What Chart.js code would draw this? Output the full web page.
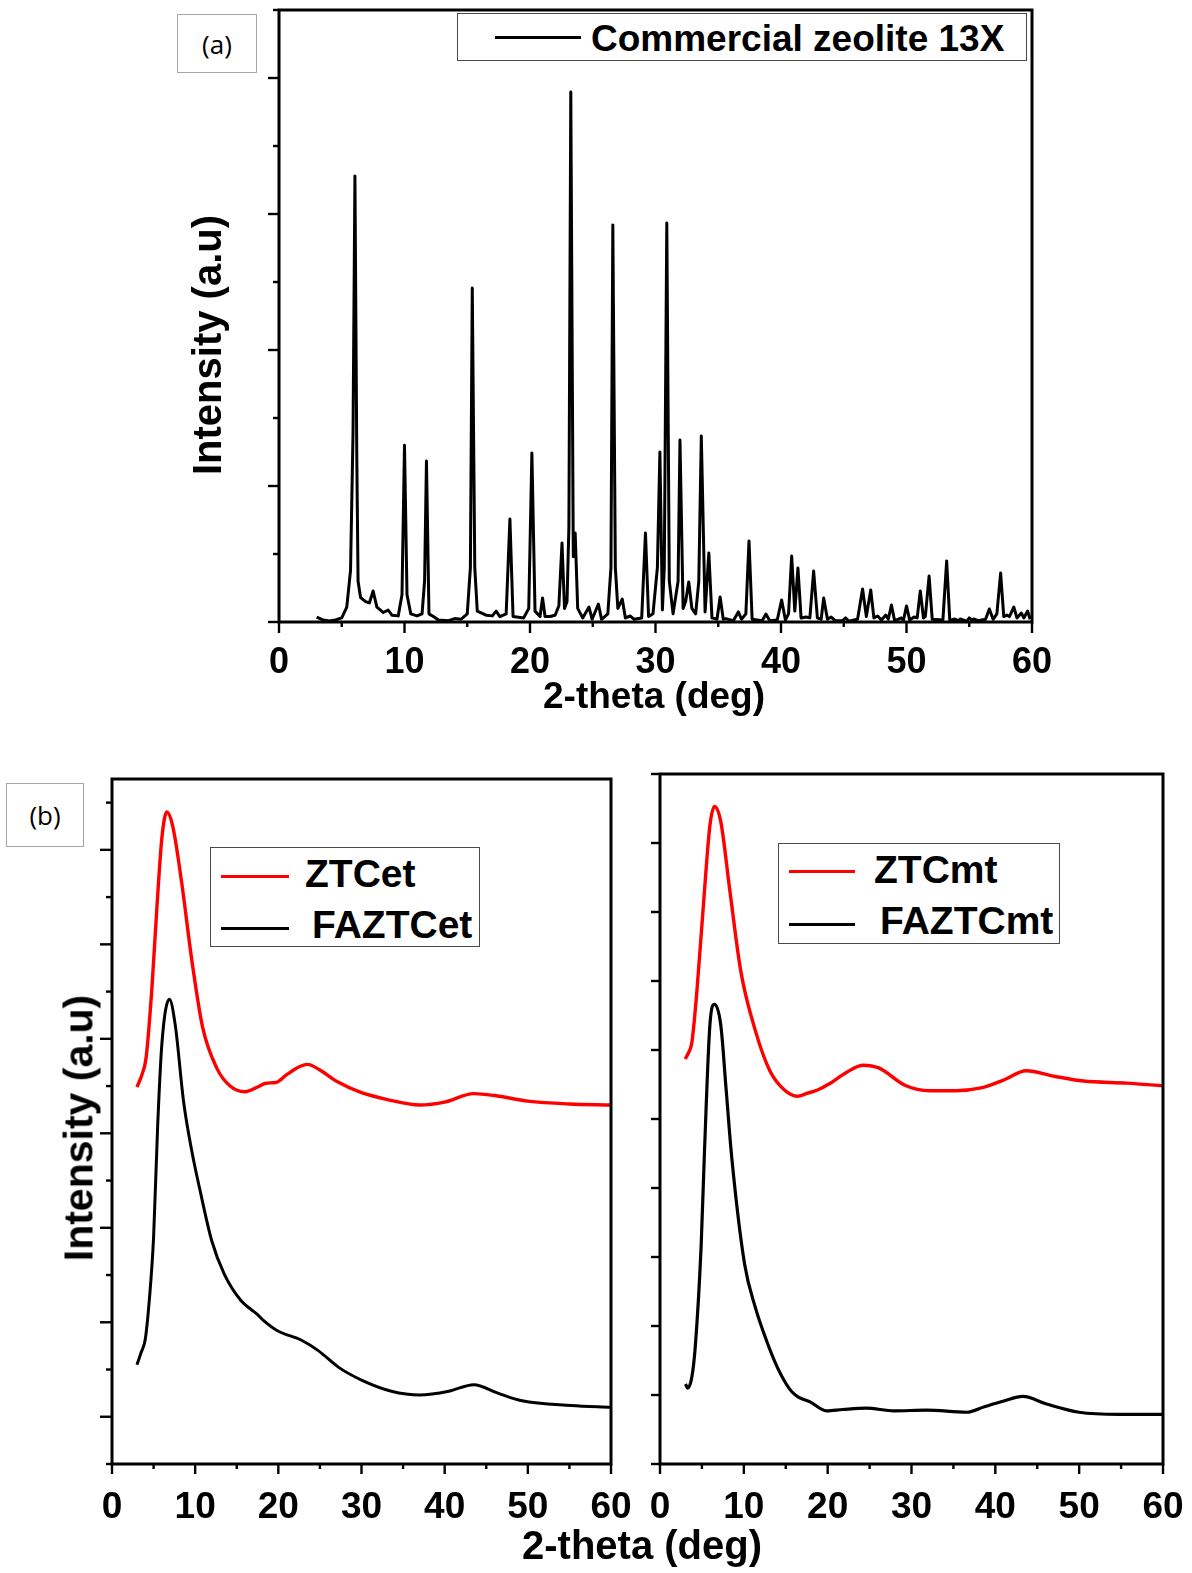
<!DOCTYPE html>
<html>
<head>
<meta charset="utf-8">
<title>XRD patterns</title>
<script src="https://cdn.jsdelivr.net/npm/chart.js@4/dist/chart.umd.min.js"></script>
<style>
  html, body { margin: 0; padding: 0; background: #fff; }
  #page { position: relative; width: 1192px; height: 1573px; overflow: hidden; background: #fff;
          font-family: "Liberation Sans", Arial, sans-serif; color: #000; }
  canvas { position: absolute; left: 0; top: 0; }
  .t { position: absolute; white-space: nowrap; font-weight: bold; line-height: 1;
       transform: translate(-50%, -50%); }
  .rot { transform: translate(-50%, -50%) rotate(-90deg); }
  .panel { position: absolute; box-sizing: border-box; border: 1.5px solid #a6a6a6; background: #fff;
           display: flex; align-items: center; justify-content: center;
           font-family: "Open Sans", "Noto Sans", sans-serif; font-size: 26px; }
  .leg { position: absolute; box-sizing: border-box; border: 1.5px solid #4a4a4a; background: #fff; }
  .ln { position: absolute; height: 3px; }
  .lt { position: absolute; white-space: nowrap; font-weight: bold; line-height: 1; transform: translateY(-50%); }
</style>
</head>
<body>
<div id="page">
  <canvas id="chartA" width="1192" height="1573"></canvas>
  <canvas id="chartB1" width="1192" height="1573"></canvas>
  <canvas id="chartB2" width="1192" height="1573"></canvas>

  <!-- panel (a) -->
  <div class="panel" style="left:177px;top:14px;width:80px;height:59px;">(a)</div>
  <div class="leg" style="left:457px;top:13px;width:570px;height:48px;"></div>
  <div class="ln" style="left:495px;top:36px;width:86px;background:#000;"></div>
  <div class="lt" style="left:591px;top:38px;font-size:37px;">Commercial zeolite 13X</div>
  <div class="t rot" style="left:207px;top:345px;font-size:40px;">Intensity (a.u)</div>
  <div class="t" style="left:654px;top:695px;font-size:37px;">2-theta (deg)</div>

  <!-- panel (b) -->
  <div class="panel" style="left:6px;top:783px;width:78px;height:64px;">(b)</div>
  <div class="leg" style="left:210px;top:847px;width:270px;height:100px;"></div>
  <div class="ln" style="left:221px;top:875px;width:68px;background:#ff0000;"></div>
  <div class="ln" style="left:221px;top:927px;width:68px;background:#000;"></div>
  <div class="lt" style="left:305px;top:873px;font-size:39px;">ZTCet</div>
  <div class="lt" style="left:312px;top:924px;font-size:39px;">FAZTCet</div>

  <div class="leg" style="left:778px;top:843px;width:282px;height:101px;"></div>
  <div class="ln" style="left:789px;top:870px;width:66px;background:#ff0000;"></div>
  <div class="ln" style="left:789px;top:923px;width:66px;background:#000;"></div>
  <div class="lt" style="left:874px;top:869px;font-size:39px;">ZTCmt</div>
  <div class="lt" style="left:880px;top:920px;font-size:39px;">FAZTCmt</div>

  <div class="t rot" style="left:79px;top:1128px;font-size:41px;">Intensity (a.u)</div>
  <div class="t" style="left:642px;top:1545px;font-size:40px;">2-theta (deg)</div>
</div>

<script>
// ---- (a) commercial zeolite 13X powder pattern ----
const thetaA = [
  3.0, 3.5, 4.0, 4.5, 5.0, 5.4, 5.7, 5.9, 6.05, 6.2,
  6.3, 6.5, 6.9, 7.2, 7.5, 7.8, 8.3, 8.7, 9.0, 9.5,
  9.8, 10.0, 10.2, 10.5, 11.0, 11.4, 11.6, 11.75, 11.95, 12.4,
  12.7, 13.5, 14.0, 14.5, 15.0, 15.25, 15.4, 15.6, 15.8, 16.5,
  17.0, 17.3, 17.6, 18.1, 18.4, 18.65, 19.5, 19.9, 20.15, 20.4,
  20.8, 21.0, 21.2, 21.6, 22.0, 22.3, 22.55, 22.75, 22.95, 23.1,
  23.25, 23.45, 23.6, 23.8, 24.2, 24.7, 24.95, 25.45, 25.7, 26.2,
  26.45, 26.6, 26.8, 27.0, 27.35, 27.6, 28.0, 28.3, 28.9, 29.2,
  29.45, 29.8, 30.15, 30.35, 30.55, 30.7, 30.9, 31.1, 31.4, 31.8,
  31.95, 32.2, 32.4, 32.65, 32.9, 33.2, 33.45, 33.65, 33.95, 34.25,
  34.5, 34.9, 35.15, 35.4, 35.6, 36.2, 36.6, 36.85, 37.2, 37.45,
  37.7, 38.5, 38.8, 39.1, 39.7, 40.05, 40.35, 40.6, 40.85, 41.1,
  41.35, 41.6, 42.0, 42.3, 42.6, 42.9, 43.2, 43.4, 43.7, 44.0,
  44.3, 44.9, 45.15, 45.4, 46.1, 46.5, 46.8, 47.15, 47.4, 47.7,
  48.0, 48.35, 48.55, 48.8, 49.05, 49.6, 49.75, 50.0, 50.25, 50.6,
  50.85, 51.1, 51.35, 51.5, 51.8, 52.05, 52.9, 53.2, 53.45, 53.85,
  54.1, 54.3, 54.8, 55.0, 55.2, 55.4, 55.7, 56.3, 56.6, 56.9,
  57.2, 57.5, 57.75, 58.0, 58.2, 58.55, 58.8, 59.15, 59.35, 59.65,
  59.85
];
const intensityA = [
  35, 15, 8, 15, 30, 110, 380, 1400, 3280, 1200,
  300, 180, 150, 140, 228, 110, 70, 88, 50, 45,
  200, 1300, 200, 60, 45, 60, 300, 1184, 60, 35,
  15, 10, 25, 20, 60, 400, 2456, 400, 80, 50,
  45, 80, 40, 60, 757, 40, 30, 100, 1243, 80,
  40, 176, 40, 40, 50, 120, 581, 100, 150, 700,
  3897, 480, 654, 100, 30, 110, 20, 132, 20, 60,
  400, 2920, 400, 100, 169, 30, 44, 20, 30, 654,
  40, 60, 400, 1250, 88, 400, 2934, 300, 60, 300,
  1338, 100, 150, 294, 100, 60, 300, 1368, 74, 507,
  30, 20, 184, 20, 25, 10, 74, 20, 60, 596,
  20, 10, 59, 10, 15, 162, 15, 60, 485, 80,
  397, 30, 37, 30, 375, 30, 20, 176, 20, 37,
  10, 10, 30, 5, 20, 243, 40, 235, 30, 44,
  15, 51, 20, 125, 10, 30, 10, 118, 15, 37,
  30, 228, 30, 40, 338, 20, 15, 449, 10, 22,
  10, 22, 5, 30, 15, 22, 10, 20, 96, 20,
  60, 360, 40, 51, 40, 110, 30, 66, 30, 81,
  20
];

// ---- (b) template carbons, ethanol route ----
const thetaZTCet = [3.0, 3.6, 4.1, 4.8, 5.4, 6.0, 6.6, 7.3, 8.4, 9.6, 10.9, 12.6, 14.2, 16.0, 17.5, 18.5,
  19.8, 21.0, 22.4, 23.5, 25.0, 27.0, 30.0, 33.0, 37.0, 40.0, 43.5, 46.0, 50.0, 55.0, 60.0];
const ZTCet = [3.49, 3.62, 3.80, 4.54, 5.39, 6.13, 6.40, 6.25, 5.64, 4.83, 4.12, 3.69, 3.50, 3.44, 3.49, 3.53,
  3.54, 3.62, 3.70, 3.73, 3.67, 3.55, 3.43, 3.36, 3.30, 3.33, 3.42, 3.40, 3.34, 3.31, 3.30];
const thetaFAZTCet = [3.0, 3.5, 4.0, 4.5, 5.0, 5.5, 6.0, 6.9, 7.6, 8.6, 9.6, 10.6, 12.0, 13.5, 15.5, 16.8,
  17.4, 18.2, 19.9, 22.8, 24.8, 27.3, 30.2, 33.6, 37.0, 40.5, 43.5, 46.4, 49.3, 55.2, 60.0];
const FAZTCet = [0.55, 0.68, 0.82, 1.25, 1.90, 3.10, 3.95, 4.42, 4.15, 3.34, 2.81, 2.39, 1.86, 1.51, 1.23, 1.13,
  1.09, 1.02, 0.91, 0.81, 0.70, 0.52, 0.38, 0.27, 0.23, 0.27, 0.34, 0.25, 0.17, 0.12, 0.10];

// ---- (b) template carbons, methanol route ----
const thetaZTCmt = [3.0, 3.4, 3.8, 4.4, 5.3, 5.95, 6.5, 7.25, 8.34, 9.64, 11.4, 13.1, 14.85, 16.4, 17.5,
  18.8, 20.2, 21.8, 24.2, 26.1, 29.2, 32.2, 35.3, 38.3, 40.9, 43.7, 47.0, 50.5, 55.7, 60.0];
const ZTCmt = [5.87, 5.96, 6.11, 6.85, 8.30, 9.25, 9.53, 9.31, 8.30, 7.14, 6.27, 5.70, 5.42, 5.33, 5.37,
  5.42, 5.51, 5.64, 5.78, 5.74, 5.49, 5.41, 5.41, 5.45, 5.56, 5.70, 5.62, 5.55, 5.52, 5.48];
const thetaFAZTCmt = [3.04, 3.3, 3.8, 4.2, 4.9, 5.3, 5.95, 6.5, 7.25, 7.9, 8.56, 10.1, 11.37, 12.7, 14.0,
  15.0, 15.7, 16.5, 17.9, 19.85, 21.8, 24.6, 27.9, 31.8, 36.6, 38.7, 40.9, 43.3, 46.1, 50.0, 54.8, 60.0];
const FAZTCmt = [1.16, 1.10, 1.26, 1.69, 3.14, 4.51, 6.36, 6.66, 6.36, 5.41, 4.44, 2.89, 2.27, 1.79, 1.40,
  1.17, 1.05, 0.97, 0.90, 0.77, 0.79, 0.81, 0.77, 0.78, 0.75, 0.83, 0.91, 0.98, 0.87, 0.75, 0.72, 0.72];

// x tick values shared by every panel
const thetaMin = 0, thetaMax = 60, thetaMinorStep = 5, thetaMajorStep = 10;

const W = 1192, H = 1573;
Chart.defaults.font.family = '"Liberation Sans", Arial, sans-serif';
Chart.defaults.color = '#000';

const pts = (xs, ys) => xs.map((x, i) => ({ x, y: ys[i] }));

// Closed frame plus outward major/minor tick marks, taken from the scales
const frameTicks = {
  id: 'frameTicks',
  afterDatasetsDraw(chart, args, o) {
    const { ctx, chartArea: a } = chart;
    const xs = chart.scales.x, ys = chart.scales.y;
    const isMajor = (v, m) => Math.abs(v / m - Math.round(v / m)) < 1e-6;
    ctx.save();
    ctx.strokeStyle = '#000';
    ctx.lineCap = 'butt';
    ctx.lineWidth = o.tickWidth;
    xs.ticks.forEach(t => {
      const p = xs.getPixelForValue(t.value);
      const len = isMajor(t.value, o.xMajor) ? o.xLong : o.xShort;
      ctx.beginPath(); ctx.moveTo(p, a.bottom); ctx.lineTo(p, a.bottom + len); ctx.stroke();
    });
    ys.ticks.forEach(t => {
      const p = ys.getPixelForValue(t.value);
      const len = isMajor(t.value, o.yMajor) ? o.yLong : o.yShort;
      ctx.beginPath(); ctx.moveTo(a.left, p); ctx.lineTo(a.left - len, p); ctx.stroke();
    });
    ctx.lineWidth = o.frameWidth;
    ctx.strokeRect(a.left, a.top, a.right - a.left, a.bottom - a.top);
    ctx.restore();
  }
};

function makeChart(id, area, datasets, yAxis, marks, labelSize, labelPad) {
  return new Chart(document.getElementById(id), {
    type: 'line',
    data: { datasets },
    options: {
      responsive: false,
      animation: false,
      layout: { padding: { left: area.l, top: area.t, right: W - area.r, bottom: 0 } },
      plugins: { legend: { display: false }, tooltip: { enabled: false }, frameTicks: marks },
      elements: { point: { radius: 0 } },
      scales: {
        x: {
          type: 'linear', min: thetaMin, max: thetaMax,
          grid: { display: false }, border: { display: false },
          ticks: {
            stepSize: thetaMinorStep, autoSkip: false, maxRotation: 0, minRotation: 0,
            padding: labelPad, color: '#000', font: { size: labelSize, weight: 'bold' },
            callback: v => (v % thetaMajorStep === 0 ? String(v) : '')
          },
          afterFit: s => { s.height = H - area.b; s.paddingLeft = 0; s.paddingRight = 0; }
        },
        y: {
          type: 'linear', min: yAxis.min, max: yAxis.max,
          grid: { display: false }, border: { display: false },
          ticks: { display: false, stepSize: yAxis.step, includeBounds: false },
          afterFit: s => { s.width = 0; }
        }
      }
    },
    plugins: [frameTicks]
  });
}

// (a)
makeChart('chartA', { l: 279, t: 10, r: 1032, b: 622 },
  [{ data: pts(thetaA, intensityA), borderColor: '#000', borderWidth: 3, tension: 0,
     borderJoinStyle: 'round', pointRadius: 0 }],
  { min: 0, max: 4500, step: 500 },
  { xMajor: 10, xLong: 11, xShort: 5, yMajor: 1000, yLong: 11, yShort: 6, tickWidth: 2.4, frameWidth: 3 },
  36, 11);

// (b) left
makeChart('chartB1', { l: 112, t: 779, r: 611, b: 1464 },
  [
    { data: pts(thetaZTCet, ZTCet), borderColor: '#ff0000', borderWidth: 3.4, cubicInterpolationMode: 'monotone', pointRadius: 0 },
    { data: pts(thetaFAZTCet, FAZTCet), borderColor: '#000', borderWidth: 3, cubicInterpolationMode: 'monotone', pointRadius: 0 }
  ],
  { min: -0.5, max: 6.75, step: 0.5 },
  { xMajor: 10, xLong: 10, xShort: 5, yMajor: 1, yLong: 12, yShort: 6, tickWidth: 2.4, frameWidth: 3 },
  37, 14);

// (b) right
makeChart('chartB2', { l: 660, t: 774, r: 1163, b: 1464 },
  [
    { data: pts(thetaZTCmt, ZTCmt), borderColor: '#ff0000', borderWidth: 3.4, cubicInterpolationMode: 'monotone', pointRadius: 0 },
    { data: pts(thetaFAZTCmt, FAZTCmt), borderColor: '#000', borderWidth: 3.2, cubicInterpolationMode: 'monotone', pointRadius: 0 }
  ],
  { min: 0, max: 10, step: 1 },
  { xMajor: 10, xLong: 10, xShort: 5, yMajor: 1, yLong: 9, yShort: 9, tickWidth: 2.4, frameWidth: 3 },
  37, 14);
</script>
</body>
</html>
